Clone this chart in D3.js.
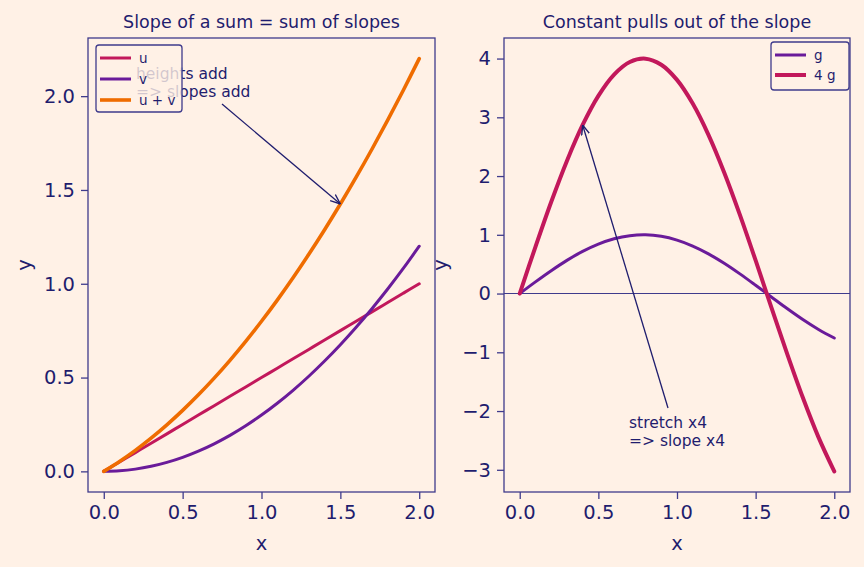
<!DOCTYPE html>
<html>
<head>
<meta charset="utf-8">
<script src="https://cdn.jsdelivr.net/npm/d3@7"></script>
<style>
  body { margin: 0; background: #fff1e6; }
  svg { display: block; font-family: "DejaVu Sans", sans-serif; }
</style>
</head>
<body>
<div id="chart"></div>
<script>
// sample points along x
const xs = [0, 0.1, 0.2, 0.3, 0.4, 0.5, 0.6, 0.7, 0.8, 0.9, 1.0, 1.1, 1.2, 1.3, 1.4, 1.5, 1.6, 1.7, 1.8, 1.9, 2.0];

// left panel
const uVals = [0, 0.05, 0.1, 0.15, 0.2, 0.25, 0.3, 0.35, 0.4, 0.45, 0.5, 0.55, 0.6, 0.65, 0.7, 0.75, 0.8, 0.85, 0.9, 0.95, 1.0];
const vVals = [0, 0.003, 0.012, 0.027, 0.048, 0.075, 0.108, 0.147, 0.192, 0.243, 0.3, 0.363, 0.432, 0.507, 0.588, 0.675, 0.768, 0.867, 0.972, 1.083, 1.2];
const uvVals = [0, 0.053, 0.112, 0.177, 0.248, 0.325, 0.408, 0.497, 0.592, 0.693, 0.8, 0.913, 1.032, 1.157, 1.288, 1.425, 1.568, 1.717, 1.872, 2.033, 2.2];

// right panel
const gVals = [0, 0.199, 0.389, 0.565, 0.717, 0.841, 0.932, 0.985, 1.0, 0.974, 0.909, 0.808, 0.676, 0.516, 0.335, 0.141, -0.058, -0.256, -0.443, -0.612, -0.757];
const g4Vals = [0, 0.795, 1.558, 2.258, 2.870, 3.366, 3.728, 3.942, 3.998, 3.895, 3.637, 3.234, 2.702, 2.062, 1.340, 0.564, -0.234, -1.022, -1.770, -2.448, -3.027];

const xTicks = [0, 0.5, 1.0, 1.5, 2.0];
const yTicksLeft = [0, 0.5, 1.0, 1.5, 2.0];
const yTicksRight = [-3, -2, -1, 0, 1, 2, 3, 4];

const ink = "#1f1d6e";
const spine = "#3f3b8c";
const bg = "#fff1e6";

const svg = d3.select("#chart").append("svg")
    .attr("width", 864)
    .attr("height", 567);

svg.append("rect").attr("width", 864).attr("height", 567).attr("fill", bg);

const defs = svg.append("defs");
defs.append("marker")
    .attr("id", "arrow")
    .attr("viewBox", "0 0 10 10")
    .attr("refX", 10).attr("refY", 5)
    .attr("markerWidth", 10).attr("markerHeight", 10)
    .attr("markerUnits", "userSpaceOnUse")
    .attr("orient", "auto")
    .append("path")
    .attr("d", "M0,1 L10,5 L0,9")
    .attr("fill", "none")
    .attr("stroke", ink)
    .attr("stroke-width", 1.4);

function panel(opts) {
    const { left, right, top, bottom } = opts;
    const x = d3.scaleLinear().domain([-0.1, 2.1]).range([left, right]);
    const y = d3.scaleLinear().domain(opts.yDomain).range([bottom, top]);
    const g = svg.append("g");

    const xa = g.append("g")
        .attr("transform", `translate(0,${bottom})`)
        .call(d3.axisBottom(x).tickValues(xTicks).tickFormat(d3.format(".1f")).tickSize(7).tickPadding(6));
    const ya = g.append("g")
        .attr("transform", `translate(${left},0)`)
        .call(d3.axisLeft(y).tickValues(opts.yTicks).tickFormat(opts.yFormat).tickSize(7).tickPadding(6));
    [xa, ya].forEach(a => {
        a.attr("font-size", null).attr("font-family", null);
        a.select(".domain").remove();
        a.selectAll(".tick line").attr("stroke", spine).attr("stroke-width", 1.3);
        a.selectAll(".tick text").attr("fill", ink).style("font-size", "19.5px");
    });

    if (opts.zeroLine) {
        g.append("line")
            .attr("x1", left).attr("x2", right)
            .attr("y1", y(0)).attr("y2", y(0))
            .attr("stroke", spine).attr("stroke-width", 1.1);
    }

    const line = vals => d3.line()
        .x((d, i) => x(xs[i]))
        .y(d => y(d))
        .curve(d3.curveCatmullRom)(vals);

    opts.series.forEach(s => {
        g.append("path")
            .attr("d", line(s.values))
            .attr("fill", "none")
            .attr("stroke", s.color)
            .attr("stroke-width", s.width)
            .attr("stroke-linecap", "round");
    });

    // spines
    g.append("rect")
        .attr("x", left).attr("y", top)
        .attr("width", right - left).attr("height", bottom - top)
        .attr("fill", "none").attr("stroke", spine).attr("stroke-width", 1.3);

    // title + labels
    g.append("text")
        .attr("x", (left + right) / 2).attr("y", 28)
        .attr("text-anchor", "middle")
        .style("font-size", "17.5px")
        .attr("fill", ink)
        .text(opts.title);
    g.append("text")
        .attr("x", (left + right) / 2).attr("y", 550)
        .attr("text-anchor", "middle")
        .style("font-size", "19.5px").attr("fill", ink)
        .text("x");
    g.append("text")
        .attr("transform", `translate(${opts.yLabelX},${(top + bottom) / 2}) rotate(-90)`)
        .attr("text-anchor", "middle")
        .style("font-size", "19.5px").attr("fill", ink)
        .text("y");

    // annotation
    const a = opts.note;
    a.lines.forEach((t, i) => {
        g.append("text")
            .attr("x", a.tx).attr("y", a.ty + i * 18)
            .style("font-size", "15.5px").attr("fill", ink)
            .text(t);
    });
    g.append("line")
        .attr("x1", a.sx).attr("y1", a.sy)
        .attr("x2", x(a.px)).attr("y2", y(a.py))
        .attr("stroke", ink).attr("stroke-width", 1.3)
        .attr("marker-end", "url(#arrow)");

    // legend
    const lg = opts.legend;
    const leg = g.append("g");
    leg.append("rect")
        .attr("x", lg.x).attr("y", lg.y)
        .attr("width", lg.w).attr("height", lg.h)
        .attr("rx", 3)
        .attr("fill", bg).attr("fill-opacity", 0.8)
        .attr("stroke", spine).attr("stroke-width", 1.3);
    opts.series.forEach((s, i) => {
        const yy = lg.y + 13 + i * lg.step;
        leg.append("line")
            .attr("x1", lg.x + 4).attr("x2", lg.x + 35)
            .attr("y1", yy).attr("y2", yy)
            .attr("stroke", s.color).attr("stroke-width", s.width);
        leg.append("text")
            .attr("x", lg.x + 43).attr("y", yy + 4.5)
            .style("font-size", "13.5px").attr("fill", ink)
            .text(s.name);
    });
}

panel({
    left: 88, right: 435, top: 38, bottom: 492,
    yDomain: [-0.11, 2.31],
    yTicks: yTicksLeft,
    yFormat: d3.format(".1f"),
    yLabelX: 31,
    title: "Slope of a sum = sum of slopes",
    series: [
        { name: "u", values: uVals, color: "#c2185b", width: 3 },
        { name: "v", values: vVals, color: "#6a1b9a", width: 3 },
        { name: "u + v", values: uvVals, color: "#ef6c00", width: 3.6 }
    ],
    note: { lines: ["heights add", "=> slopes add"], tx: 136, ty: 79, sx: 222, sy: 104, px: 1.5, py: 1.425 },
    legend: { x: 96, y: 45, w: 86, h: 67, step: 21 }
});

panel({
    left: 504, right: 850, top: 38, bottom: 492,
    yDomain: [-3.378, 4.35],
    yTicks: yTicksRight,
    yFormat: d => d < 0 ? "\u2212" + Math.abs(d) : String(d),
    yLabelX: 447,
    zeroLine: true,
    title: "Constant pulls out of the slope",
    series: [
        { name: "g", values: gVals, color: "#6a1b9a", width: 3 },
        { name: "4 g", values: g4Vals, color: "#c2185b", width: 4 }
    ],
    note: { lines: ["stretch x4", "=> slope x4"], tx: 629, ty: 428, sx: 668, sy: 408, px: 0.4, py: 2.870 },
    legend: { x: 771, y: 42, w: 78, h: 48, step: 20 }
});
</script>
</body>
</html>
